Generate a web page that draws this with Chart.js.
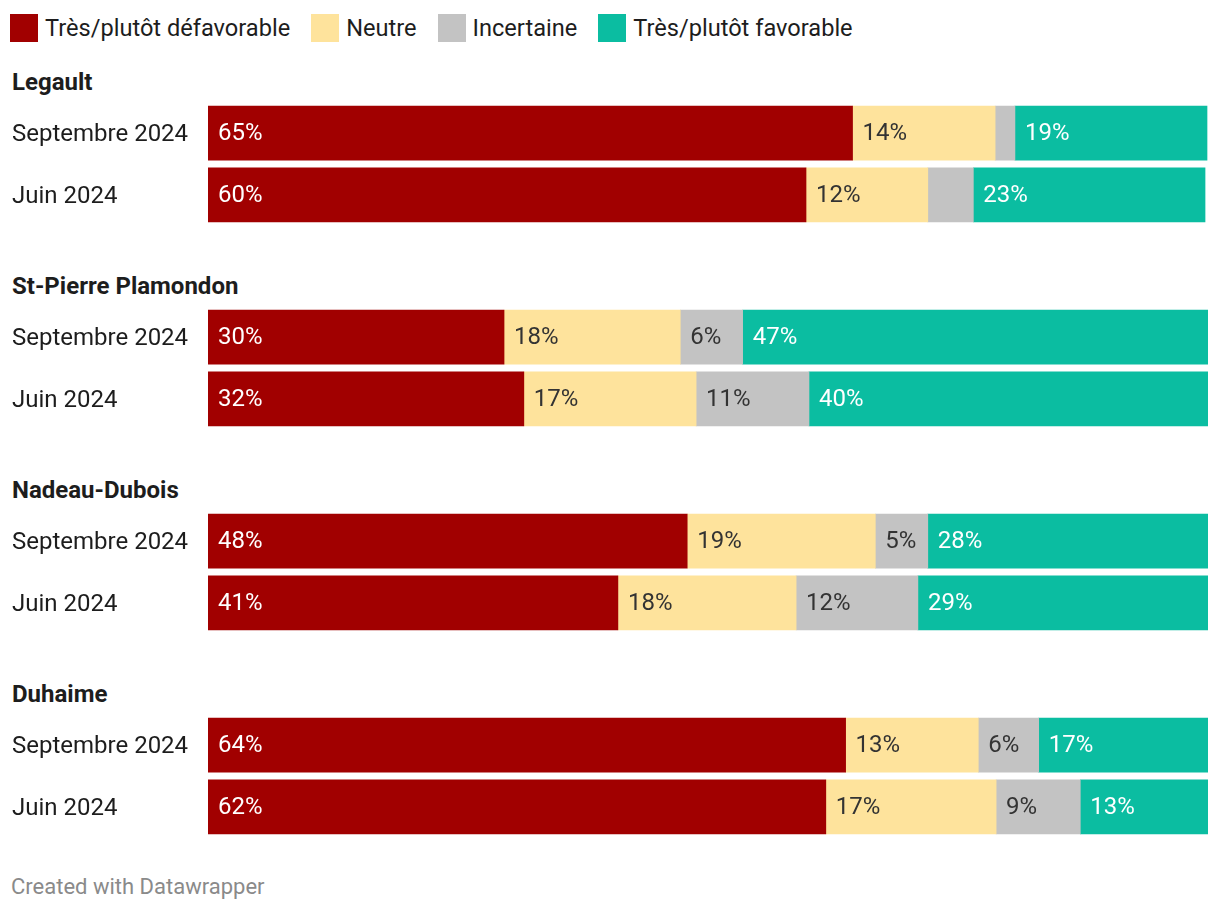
<!DOCTYPE html>
<html>
<head>
<meta charset="utf-8">
<script src="https://cdn.jsdelivr.net/npm/chart.js@4/dist/chart.umd.min.js"></script>
<style>
  html, body { margin: 0; padding: 0; background: #fff; }
  body { width: 1220px; height: 912px; position: relative; overflow: hidden; font-family: Roboto, "Noto Sans", sans-serif; color: #1d1d1d; }
  #legend { position: absolute; left: 10px; top: 14px; display: flex; align-items: center; font-size: 23.6px; line-height: 28px; }
  .item { display: flex; align-items: center; margin-right: 21px; }
  .sw { width: 28px; height: 28px; margin-right: 7px; }
  .gtitle { position: absolute; left: 12px; font-weight: 700; font-size: 24px; line-height: 28px; color: #1d1d1d; }
  canvas { position: absolute; left: 0; }
  #footer { position: absolute; left: 11px; top: 874px; font-size: 22px; line-height: 26px; color: #8a8a8a; }
</style>
</head>
<body>
<div id="legend"></div>
<div id="footer">Created with Datawrapper</div>
<script>
// ---- Data ----
const groups = ['Legault', 'St-Pierre Plamondon', 'Nadeau-Dubois', 'Duhaime'];
const periods = ['Septembre 2024', 'Juin 2024'];
const seriesNames = ['Très/plutôt défavorable', 'Neutre', 'Incertaine', 'Très/plutôt favorable'];
// values per row: Legault Sept, Legault Juin, St-Pierre Sept, St-Pierre Juin, Nadeau Sept, Nadeau Juin, Duhaime Sept, Duhaime Juin
const defavorable = [65.1, 60.4, 29.9, 31.9, 48.4, 41.4, 64.4, 62.4];
const neutre      = [14.4, 12.3, 17.8, 17.4, 19.0, 18.0, 13.4, 17.2];
const incertaine  = [2.0, 4.6, 6.3, 11.4, 5.3, 12.3, 6.1, 8.5];
const favorable   = [19.4, 23.4, 47.0, 40.3, 28.3, 29.3, 17.1, 12.9];

// ---- Styles ----
const colors = ['#a10000', '#fee39c', '#c3c3c3', '#0bbda1'];
const labelColors = ['#ffffff', '#333333', '#333333', '#ffffff'];
const allSeries = [defavorable, neutre, incertaine, favorable];

// Legend
const legend = document.getElementById('legend');
seriesNames.forEach((n, i) => {
  const it = document.createElement('div');
  it.className = 'item';
  it.innerHTML = '<div class="sw" style="background:' + colors[i] + '"></div><span>' + n + '</span>';
  legend.appendChild(it);
});

const valueLabels = {
  id: 'valueLabels',
  afterDatasetsDraw(chart) {
    const ctx = chart.ctx;
    ctx.save();
    ctx.font = '24px Roboto, "Noto Sans", sans-serif';
    ctx.textBaseline = 'middle';
    ctx.textAlign = 'left';
    chart.data.datasets.forEach((ds, i) => {
      const meta = chart.getDatasetMeta(i);
      meta.data.forEach((bar, j) => {
        const v = ds.data[j];
        if (v < 5) return;
        ctx.fillStyle = labelColors[i];
        ctx.fillText(Math.round(v) + '%', Math.min(bar.base, bar.x) + 10, bar.y + 1);
      });
    });
    ctx.restore();
  }
};

groups.forEach((g, gi) => {
  const t = document.createElement('div');
  t.className = 'gtitle';
  t.textContent = g;
  t.style.top = (68 + gi * 204) + 'px';
  document.body.appendChild(t);

  const c = document.createElement('canvas');
  c.width = 1220; c.height = 152;
  c.style.top = (88 + gi * 204) + 'px';
  document.body.appendChild(c);

  new Chart(c, {
    type: 'bar',
    data: {
      labels: periods,
      datasets: allSeries.map((s, i) => ({
        label: seriesNames[i],
        data: s.slice(gi * 2, gi * 2 + 2),
        backgroundColor: colors[i],
        borderWidth: 0,
        barThickness: 54
      }))
    },
    options: {
      indexAxis: 'y',
      responsive: false,
      devicePixelRatio: 1,
      animation: false,
      layout: { padding: { left: 12, right: 12, top: 0, bottom: 0 } },
      plugins: { legend: { display: false }, tooltip: { enabled: false } },
      scales: {
        x: { stacked: true, min: 0, max: 101, display: false },
        y: {
          stacked: true,
          grid: { display: false },
          border: { display: false },
          afterFit(scale) { scale.width = 196; },
          ticks: {
            crossAlign: 'far',
            padding: 0,
            labelOffset: 2,
            color: '#1d1d1d',
            font: { family: 'Roboto, "Noto Sans", sans-serif', size: 24 }
          }
        }
      }
    },
    plugins: [valueLabels]
  });
});
</script>
</body>
</html>
